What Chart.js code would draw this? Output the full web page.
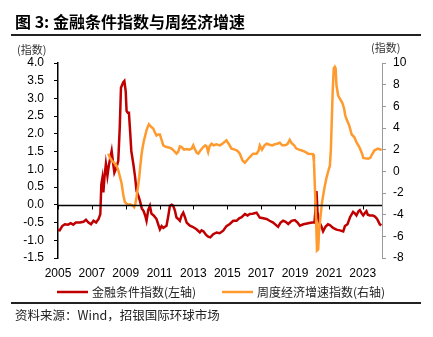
<!DOCTYPE html>
<html><head><meta charset="utf-8">
<script src="https://cdn.jsdelivr.net/npm/chart.js@4"></script>
<style>html,body{margin:0;padding:0;background:#fff;}canvas{display:block;}</style>
</head><body>
<canvas id="c" width="433" height="337"></canvas>
<script>
const titleText = "图 3: 金融条件指数与周经济增速";
const sourceText = "资料来源：Wind，招银国际环球市场";
const axisUnitLeft = "(指数)";
const axisUnitRight = "(指数)";
const seriesNames = ["金融条件指数(左轴)", "周度经济增速指数(右轴)"];
const yearTicks = [2005, 2007, 2009, 2011, 2013, 2015, 2017, 2019, 2021, 2023];
const leftTicks = [-1.5, -1.0, -0.5, 0.0, 0.5, 1.0, 1.5, 2.0, 2.5, 3.0, 3.5, 4.0];
const rightTicks = [-8, -6, -4, -2, 0, 2, 4, 6, 8, 10];

const fciDates = [2005.00,2005.10,2005.25,2005.40,2005.60,2005.75,2005.90,2006.05,2006.30,2006.50,2006.65,2006.80,2006.95,2007.10,2007.25,2007.40,2007.50,2007.56,2007.62,2007.68,2007.75,2007.83,2007.92,2008.00,2008.10,2008.17,2008.25,2008.33,2008.45,2008.56,2008.65,2008.72,2008.85,2008.92,2009.00,2009.05,2009.12,2009.19,2009.27,2009.33,2009.45,2009.55,2009.64,2009.75,2009.84,2009.95,2010.05,2010.15,2010.23,2010.33,2010.43,2010.52,2010.65,2010.82,2010.92,2011.02,2011.12,2011.22,2011.41,2011.52,2011.61,2011.72,2011.80,2011.90,2012.00,2012.10,2012.20,2012.30,2012.40,2012.50,2012.60,2012.79,2012.95,2013.18,2013.38,2013.48,2013.60,2013.75,2013.87,2014.00,2014.17,2014.37,2014.55,2014.76,2014.95,2015.15,2015.35,2015.55,2015.70,2015.85,2016.04,2016.20,2016.33,2016.50,2016.73,2016.92,2017.12,2017.32,2017.50,2017.71,2017.90,2018.00,2018.15,2018.30,2018.45,2018.60,2018.80,2018.99,2019.15,2019.29,2019.50,2019.78,2020.00,2020.15,2020.20,2020.27,2020.33,2020.40,2020.55,2020.66,2020.80,2020.95,2021.06,2021.25,2021.45,2021.65,2021.85,2021.95,2022.10,2022.25,2022.43,2022.55,2022.63,2022.75,2022.83,2022.95,2023.03,2023.15,2023.22,2023.30,2023.42,2023.60,2023.72,2023.85,2024.01,2024.10];
const fciValues = [-0.71,-0.72,-0.60,-0.55,-0.56,-0.52,-0.56,-0.50,-0.50,-0.48,-0.42,-0.50,-0.55,-0.45,-0.50,-0.40,-0.26,0.58,0.75,0.35,0.80,1.15,0.82,1.10,1.35,1.52,1.20,0.91,1.05,1.24,2.20,3.30,3.45,3.49,3.20,2.65,2.60,2.60,2.00,1.52,1.15,0.80,0.39,0.25,0.11,-0.10,-0.17,-0.30,-0.45,-0.15,-0.03,-0.25,-0.30,-0.40,-0.55,-0.69,-0.60,-0.65,-0.59,-0.30,-0.03,0.00,-0.03,-0.15,-0.36,-0.40,-0.45,-0.30,-0.22,-0.35,-0.50,-0.59,-0.62,-0.69,-0.78,-0.72,-0.75,-0.85,-0.90,-0.92,-0.83,-0.78,-0.80,-0.73,-0.60,-0.54,-0.45,-0.45,-0.38,-0.35,-0.26,-0.30,-0.26,-0.25,-0.22,-0.36,-0.38,-0.40,-0.45,-0.50,-0.58,-0.62,-0.50,-0.45,-0.48,-0.54,-0.45,-0.43,-0.50,-0.59,-0.55,-0.52,-0.50,-0.50,-0.20,0.39,-0.20,-0.45,-0.60,-0.75,-0.62,-0.55,-0.57,-0.65,-0.70,-0.72,-0.75,-0.60,-0.55,-0.35,-0.20,-0.25,-0.30,-0.18,-0.15,-0.25,-0.30,-0.22,-0.18,-0.28,-0.30,-0.30,-0.33,-0.40,-0.55,-0.58];

const growthDates = [2007.97,2008.05,2008.17,2008.30,2008.45,2008.56,2008.66,2008.76,2008.86,2008.95,2009.05,2009.15,2009.25,2009.35,2009.45,2009.50,2009.57,2009.64,2009.72,2009.80,2009.87,2009.94,2010.01,2010.08,2010.15,2010.23,2010.30,2010.37,2010.45,2010.55,2010.63,2010.72,2010.82,2010.92,2011.02,2011.10,2011.22,2011.32,2011.41,2011.55,2011.71,2011.85,2012.00,2012.10,2012.20,2012.30,2012.45,2012.60,2012.75,2012.90,2012.99,2013.10,2013.20,2013.29,2013.40,2013.58,2013.70,2013.78,2013.87,2013.95,2014.07,2014.20,2014.35,2014.56,2014.75,2014.95,2015.10,2015.25,2015.45,2015.60,2015.74,2015.90,2016.04,2016.15,2016.33,2016.53,2016.73,2016.85,2016.92,2017.05,2017.20,2017.32,2017.50,2017.65,2017.81,2017.95,2018.10,2018.25,2018.40,2018.55,2018.69,2018.80,2018.95,2019.08,2019.25,2019.48,2019.65,2019.78,2020.00,2020.07,2020.12,2020.20,2020.25,2020.30,2020.37,2020.42,2020.50,2020.60,2020.75,2020.86,2020.98,2021.06,2021.12,2021.17,2021.23,2021.29,2021.35,2021.40,2021.45,2021.55,2021.65,2021.80,2021.90,2021.97,2022.05,2022.20,2022.35,2022.50,2022.63,2022.80,2022.97,2023.03,2023.15,2023.32,2023.45,2023.52,2023.70,2023.90,2024.05,2024.12];
const growthValues = [1.63,1.30,1.00,0.80,0.55,0.10,-0.50,-1.14,-2.20,-2.83,-3.00,-3.08,-3.05,-3.10,-3.20,-3.30,-3.00,-2.37,-1.50,-0.52,0.60,1.63,2.30,2.86,3.30,3.79,4.10,4.34,4.20,4.05,3.94,3.60,3.30,3.40,3.40,3.00,2.40,2.30,2.24,2.20,2.10,1.90,1.63,1.80,2.30,2.24,2.00,2.05,2.00,2.10,2.40,2.00,1.70,1.63,1.90,2.24,2.40,2.30,1.78,2.30,2.55,2.40,2.50,2.40,2.60,2.86,2.50,2.10,2.00,1.90,1.63,1.00,0.80,1.00,1.32,1.63,1.63,1.90,2.40,2.00,2.40,2.55,2.45,2.40,2.50,2.55,2.65,2.40,2.40,2.50,2.90,2.60,2.40,2.10,2.00,1.88,1.75,1.63,1.60,1.57,0.86,-2.50,-4.70,-7.30,-7.20,-5.60,-4.30,-2.83,-1.45,-0.60,0.10,0.50,2.00,4.55,7.50,9.50,9.65,9.50,7.94,7.00,6.70,6.30,5.80,5.17,4.80,4.25,3.40,3.17,2.70,2.24,1.60,1.23,1.20,1.17,1.25,1.48,1.94,2.10,2.00,2.05];

const RED = '#C00000';
const ORANGE = '#FF9A2E';
const NUM_FONT = "'Liberation Sans', Arial, sans-serif";
const CJK_FONT = "'Noto Sans CJK SC', sans-serif";

const decor = {
  id: 'decor',
  afterDatasetsDraw(chart) {
    const ctx = chart.ctx;
    const x = chart.scales.x, y = chart.scales.y;
    const area = chart.chartArea;
    ctx.save();
    const y0 = Math.round(y.getPixelForValue(0)) + 0.5;
    ctx.strokeStyle = '#000';
    ctx.lineWidth = 1.5;
    ctx.beginPath();
    ctx.moveTo(area.left, y0);
    ctx.lineTo(area.right, y0);
    ctx.stroke();
    ctx.lineWidth = 1;
    yearTicks.forEach(v => {
      const px = Math.round(x.getPixelForValue(v)) + 0.5;
      ctx.beginPath();
      ctx.moveTo(px, y0);
      ctx.lineTo(px, y0 + 4);
      ctx.stroke();
    });
    ctx.restore();
  },
  afterDraw(chart) {
    const ctx = chart.ctx;
    ctx.save();
    ctx.fillStyle = '#000';
    ctx.textBaseline = 'middle';
    ctx.textAlign = 'left';
    ctx.font = "bold 16px " + CJK_FONT;
    ctx.fillText(titleText, 15, 22);
    ctx.fillStyle = '#222';
    ctx.fillRect(11, 34, 410, 2);
    ctx.fillRect(11, 302, 410, 2);
    ctx.fillStyle = '#333';
    ctx.font = "11px " + CJK_FONT;
    ctx.fillText(axisUnitLeft, 17, 50);
    ctx.fillText(axisUnitRight, 371, 48);
    ctx.lineWidth = 2.5;
    ctx.strokeStyle = RED;
    ctx.beginPath(); ctx.moveTo(57, 292); ctx.lineTo(88, 292); ctx.stroke();
    ctx.strokeStyle = ORANGE;
    ctx.beginPath(); ctx.moveTo(222, 292); ctx.lineTo(253, 292); ctx.stroke();
    ctx.fillStyle = '#222';
    ctx.font = "12px " + CJK_FONT;
    ctx.fillText(seriesNames[0], 92, 292);
    ctx.fillText(seriesNames[1], 257, 292);
    ctx.font = "12.5px " + CJK_FONT;
    ctx.fillText(sourceText, 15, 315);
    ctx.restore();
  }
};

new Chart(document.getElementById('c'), {
  type: 'line',
  data: {
    datasets: [
      {
        label: seriesNames[0],
        data: fciDates.map((d, i) => ({x: d, y: fciValues[i]})),
        borderColor: RED, backgroundColor: RED,
        borderWidth: 2.5, pointRadius: 0, tension: 0,
        yAxisID: 'y', order: 2
      },
      {
        label: seriesNames[1],
        data: growthDates.map((d, i) => ({x: d, y: growthValues[i]})),
        borderColor: ORANGE, backgroundColor: ORANGE,
        borderWidth: 2.5, pointRadius: 0, tension: 0,
        yAxisID: 'y1', order: 1
      }
    ]
  },
  options: {
    responsive: false,
    animation: false,
    devicePixelRatio: 1,
    layout: {padding: {left: 0, right: 0, top: 63, bottom: 59}},
    plugins: {legend: {display: false}, title: {display: false}, tooltip: {enabled: false}},
    scales: {
      x: {
        type: 'linear', min: 2005, max: 2024.14,
        afterBuildTicks: s => { s.ticks = yearTicks.map(v => ({value: v})); },
        afterFit: s => { s.height = 20; },
        border: {display: false},
        grid: {display: false, drawTicks: false},
        ticks: {autoSkip: false, maxRotation: 0, padding: 8, color: '#000',
          font: {family: NUM_FONT, size: 12},
          callback: v => String(v)}
      },
      y: {
        position: 'left', min: -1.5, max: 4,
        afterBuildTicks: s => { s.ticks = leftTicks.map(v => ({value: v})); },
        afterFit: s => { s.width = 58; },
        border: {display: true, color: '#000', width: 1.5},
        grid: {drawOnChartArea: false, drawTicks: true, tickLength: 4, color: '#000'},
        ticks: {padding: 10, color: '#000', font: {family: NUM_FONT, size: 12},
          callback: v => v.toFixed(1)}
      },
      y1: {
        position: 'right', min: -8, max: 10,
        afterBuildTicks: s => { s.ticks = rightTicks.map(v => ({value: v})); },
        afterFit: s => { s.width = 51; },
        border: {display: true, color: '#9a9a9a', width: 1},
        grid: {drawOnChartArea: false, drawTicks: true, tickLength: 4, color: '#9a9a9a'},
        ticks: {padding: 7, color: '#000', font: {family: NUM_FONT, size: 12},
          callback: v => String(v)}
      }
    }
  },
  plugins: [decor]
});
</script>
</body></html>
